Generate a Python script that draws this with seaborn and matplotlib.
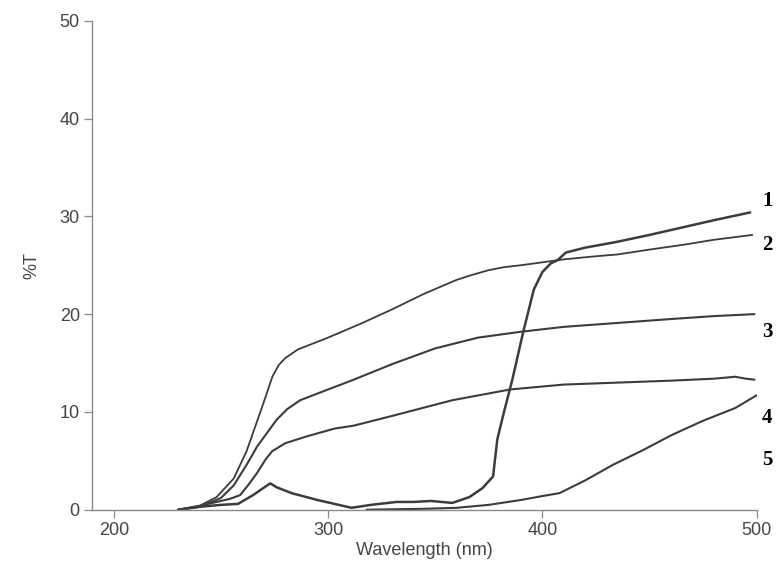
import numpy as np
import matplotlib
matplotlib.use("Agg")
import matplotlib.pyplot as plt
import seaborn as sns

# ----------------------------------------------------------
# Transmission spectra (%T vs wavelength)
# ----------------------------------------------------------
wl_1 = [230, 240, 250, 258, 265, 273, 276, 283, 295, 305, 311, 320, 332, 340, 348,
        358, 366, 372, 377, 379, 382, 386, 391, 396, 400, 404, 407, 411, 420, 435,
        450, 466, 480, 497]
t_1 = [0, 0.3, 0.5, 0.6, 1.5, 2.7, 2.3, 1.7, 1.0, 0.5, 0.2, 0.5, 0.8, 0.8, 0.9,
       0.7, 1.3, 2.2, 3.4, 7.2, 9.9, 13.3, 18.1, 22.5, 24.3, 25.2, 25.5, 26.3, 26.8, 27.4,
       28.1, 28.9, 29.6, 30.4]

wl_2 = [230, 240, 248, 256, 262, 266, 270, 272, 274, 277, 280, 286, 300, 315, 330,
        345, 360, 367, 375, 382, 390, 400, 410, 424, 435, 450, 466, 480, 498]
t_2 = [0, 0.4, 1.3, 3.2, 6.0, 8.5, 11.0, 12.3, 13.6, 14.8, 15.5, 16.4, 17.6, 19.0, 20.5,
       22.1, 23.5, 24.0, 24.5, 24.8, 25.0, 25.3, 25.6, 25.9, 26.1, 26.6, 27.1, 27.6, 28.1]

wl_3 = [230, 240, 250, 256, 262, 267, 272, 276, 281, 287, 300, 312, 330, 350, 370,
        390, 410, 435, 460, 480, 499]
t_3 = [0, 0.3, 1.2, 2.5, 4.6, 6.5, 8.0, 9.2, 10.3, 11.2, 12.3, 13.3, 14.9, 16.5, 17.6,
       18.2, 18.7, 19.1, 19.5, 19.8, 20.0]

wl_4 = [230, 240, 248, 254, 259, 263, 267, 271, 274, 277, 280, 290, 303, 312, 330,
        358, 385, 410, 435, 460, 480, 490, 495, 499]
t_4 = [0, 0.4, 0.8, 1.1, 1.5, 2.6, 3.8, 5.2, 6.0, 6.4, 6.8, 7.5, 8.3, 8.6, 9.6,
       11.2, 12.3, 12.8, 13.0, 13.2, 13.4, 13.6, 13.4, 13.3]

wl_5 = [318, 330, 345, 360, 375, 390, 400, 408, 420, 433, 447, 460, 475, 490, 500]
t_5 = [0, 0.05, 0.1, 0.2, 0.5, 1.0, 1.4, 1.7, 3.0, 4.6, 6.1, 7.6, 9.1, 10.4, 11.7]

curve_labels = ["1", "2", "3", "4", "5"]
label_y = [31.6, 27.1, 18.2, 9.4, 5.1]

x_ticks = [200, 300, 400, 500]
y_ticks = [0, 10, 20, 30, 40, 50]

# ----------------------------------------------------------
# Plot
# ----------------------------------------------------------
sns.set_style("ticks")
plt.rcParams["font.family"] = ["Liberation Sans", "DejaVu Sans"]

fig, ax = plt.subplots(figsize=(7.76, 5.76), dpi=100)
fig.subplots_adjust(left=0.119, right=0.975, top=0.964, bottom=0.115)

line_color = "#3c3c3c"
for wl, t, lw in [(wl_1, t_1, 1.8), (wl_2, t_2, 1.3), (wl_3, t_3, 1.5),
                  (wl_4, t_4, 1.5), (wl_5, t_5, 1.5)]:
    sns.lineplot(x=wl, y=t, ax=ax, color=line_color, linewidth=lw,
                 sort=False, estimator=None)

ax.set_xlim(190, 500)
ax.set_ylim(0, 50)
ax.set_xticks(x_ticks)
ax.set_yticks(y_ticks)
sns.despine(ax=ax)

for side in ["left", "bottom"]:
    ax.spines[side].set_color("#8a8a8a")
    ax.spines[side].set_linewidth(1.0)
ax.tick_params(axis="both", colors="#8a8a8a", labelcolor="#454545",
               labelsize=13, length=6, width=0.9, pad=3)

ax.set_xlabel("Wavelength (nm)", fontsize=13, color="#454545", labelpad=2)
ax.set_ylabel("%T", fontsize=13, color="#454545", labelpad=14)

# curve numbers just outside the right end of the axes
for lab, yv in zip(curve_labels, label_y):
    ax.text(502.6, yv, lab, ha="left", va="center", fontsize=15,
            fontweight="bold", family="Liberation Serif", color="black",
            clip_on=False)

plt.savefig("out.png", dpi=100)
